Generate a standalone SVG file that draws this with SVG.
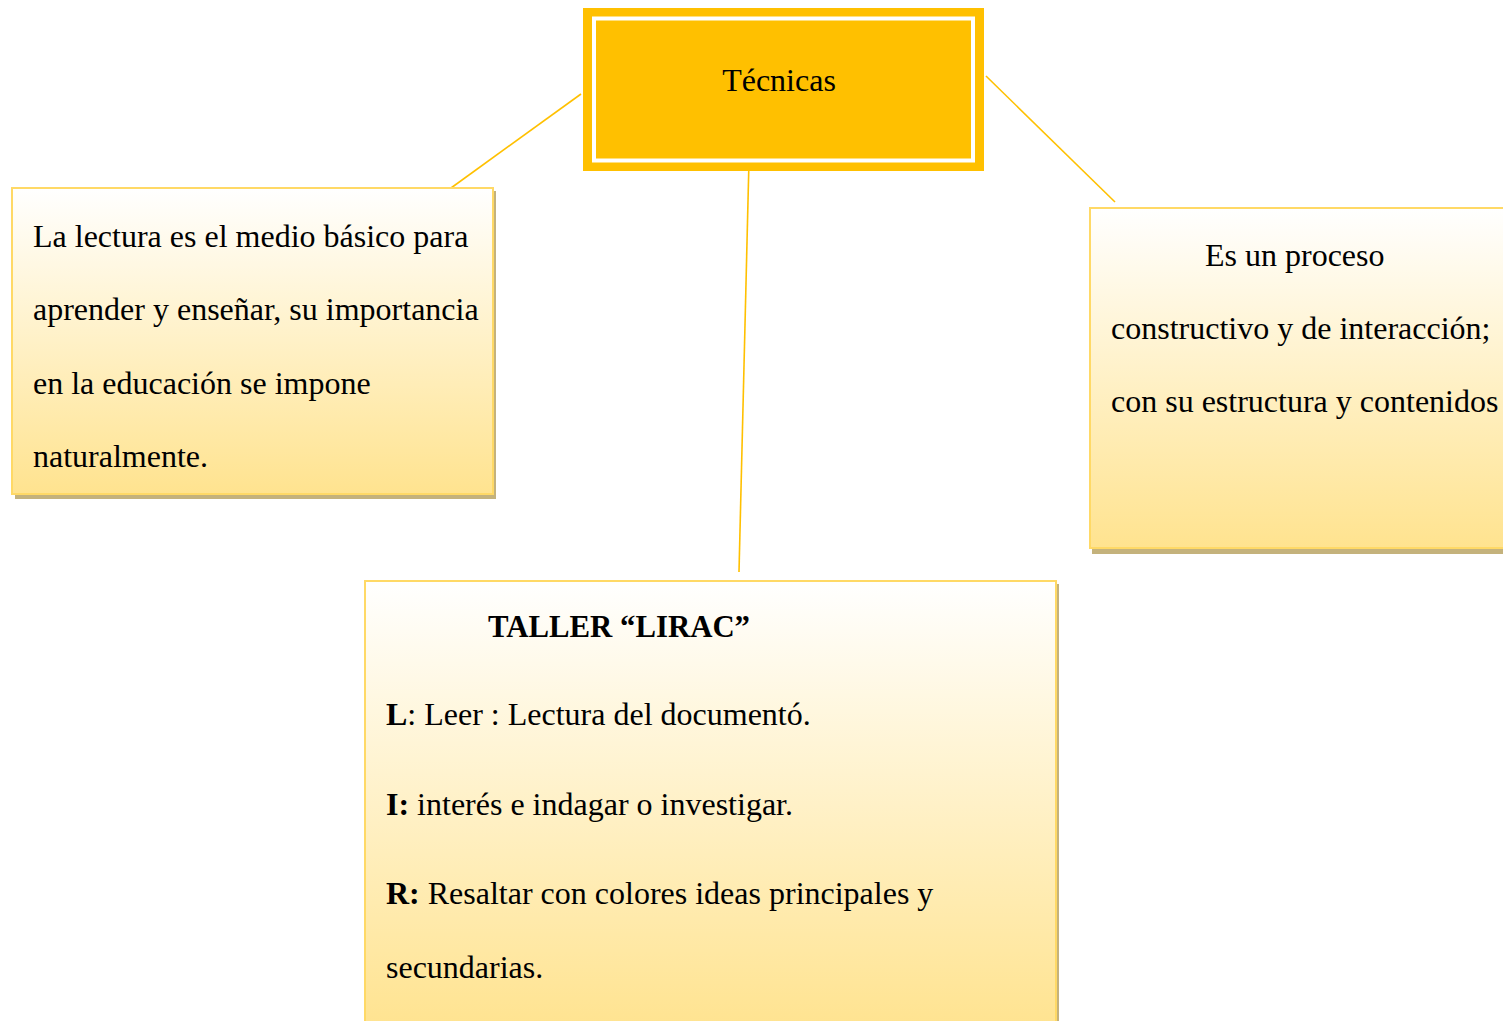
<svg xmlns="http://www.w3.org/2000/svg" width="1503" height="1021" viewBox="0 0 1503 1021">
<style>
.t{font-family:"Liberation Serif","Times New Roman",serif;font-size:32px;fill:#000}
.b{font-weight:bold}
.box{fill:url(#g);stroke:#FFD966;stroke-width:2}
.sh{fill:#C4B27C}
.con{stroke:#FFC000;stroke-width:1.6;fill:none}
</style>
<defs>
<linearGradient id="g" x1="0" y1="0" x2="0" y2="1">
<stop offset="0" stop-color="#FFFFFF"/>
<stop offset="1" stop-color="#FFE38F"/>
</linearGradient>
</defs>
<rect width="1503" height="1021" fill="#FFFFFF"/>
<g id="connectors">
<line class="con" x1="581" y1="94" x2="451" y2="188"/>
<line class="con" x1="986" y1="76" x2="1115" y2="202"/>
<line class="con" x1="749" y1="160" x2="739" y2="572"/>
</g>
<g id="node-tecnicas">
<rect x="583" y="8" width="401" height="163" fill="#FFC000"/>
<rect x="594" y="18.5" width="379" height="142" fill="none" stroke="#FFFFFF" stroke-width="4"/>
<text class="t" x="779" y="91" text-anchor="middle">Técnicas</text>
</g>
<g id="node-lectura">
<rect class="sh" x="15" y="191" width="481" height="308"/>
<rect class="box" x="12" y="188" width="481" height="306"/>
<text class="t" x="33" y="247">La lectura es el medio básico para</text>
<text class="t" x="33" y="320">aprender y enseñar, su importancia</text>
<text class="t" x="33" y="394">en la educación se impone</text>
<text class="t" x="33" y="467">naturalmente.</text>
</g>
<g id="node-proceso">
<rect class="sh" x="1092" y="211" width="420" height="343"/>
<rect class="box" x="1090" y="208" width="420" height="340"/>
<text class="t" x="1205" y="266">Es un proceso</text>
<text class="t" x="1111" y="339">constructivo y de interacción;</text>
<text class="t" x="1111" y="412">con su estructura y contenidos</text>
</g>
<g id="node-taller">
<rect class="sh" x="368" y="584" width="691" height="450"/>
<rect class="box" x="365" y="581" width="691" height="450"/>
<text class="t b" x="488" y="637" textLength="262" lengthAdjust="spacingAndGlyphs">TALLER “LIRAC”</text>
<text class="t" x="386" y="725"><tspan class="b">L</tspan>: Leer : Lectura del documentó.</text>
<text class="t" x="386" y="815"><tspan class="b">I:</tspan> interés e indagar o investigar.</text>
<text class="t" x="386" y="904"><tspan class="b">R:</tspan> Resaltar con colores ideas principales y</text>
<text class="t" x="386" y="978">secundarias.</text>
</g>
</svg>
